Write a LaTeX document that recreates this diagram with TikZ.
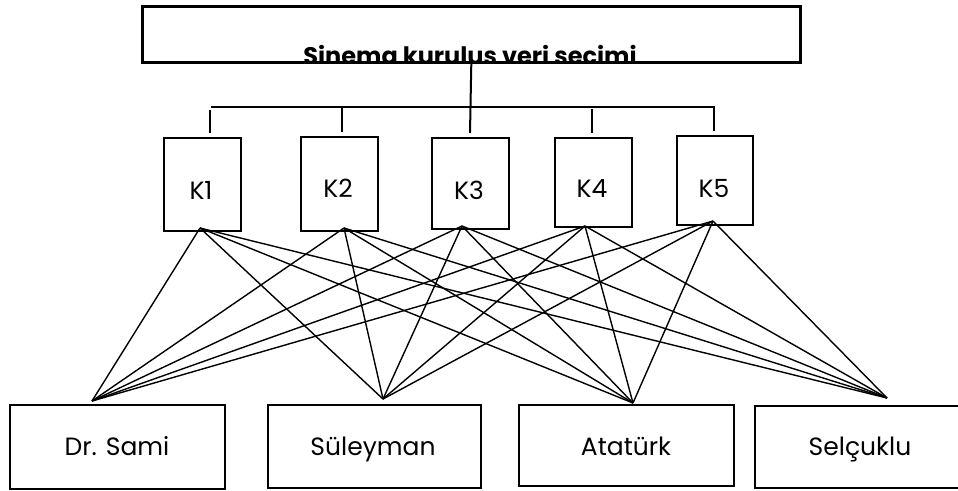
\documentclass[tikz,border=0pt]{standalone}
\usepackage{fontspec}
\setmainfont{Poppins}
\begin{document}
\begin{tikzpicture}[x=1pt,y=-1pt,
  box/.style={draw, line width=2.2pt, inner sep=0pt, anchor=north west},
  lbl/.style={inner sep=0pt, font=\fontsize{25}{30}\selectfont, anchor=base},
  tree/.style={line width=2pt},
  link/.style={line width=1.4pt},
]
\useasboundingbox (0,0) rectangle (958,490);

% title
\node[box, line width=2.6pt, minimum width=658pt, minimum height=56pt] (title) at (141,5) {};
\begin{scope}
  \clip (141,5) rectangle (799,60);
  \node[anchor=base, inner sep=0pt, font=\bfseries\fontsize{24}{28}\selectfont] (ttl) at (470,64) {Sinema kurulus veri secimi};
\end{scope}

% criteria boxes
\node[box, minimum width=77pt, minimum height=93pt] (K1) at (163,137) {};
\node[box, minimum width=77pt, minimum height=94pt] (K2) at (300,136) {};
\node[box, minimum width=77pt, minimum height=91pt] (K3) at (431,137) {};
\node[box, minimum width=77pt, minimum height=89pt] (K4) at (554,137) {};
\node[box, minimum width=76pt, minimum height=89pt] (K5) at (676,135) {};

\node[lbl] (K1t) at (201,199) {K1};
\node[lbl] (K2t) at (338,197) {K2};
\node[lbl] (K3t) at (469,199) {K3};
\node[lbl] (K4t) at (592,197) {K4};
\node[lbl] (K5t) at (714,197) {K5};

% tree
\coordinate (barL) at (211,107);
\coordinate (barR) at (715,107);
\coordinate (t1a) at (210,110); \coordinate (t1b) at (210,133);
\coordinate (t2a) at (342,107); \coordinate (t2b) at (342,132);
\coordinate (t3b) at (470,133);
\coordinate (t4a) at (592,109); \coordinate (t4b) at (592,133);
\coordinate (t5a) at (714,107); \coordinate (t5b) at (714,131);
\draw[tree] (barL) -- (barR);
\draw[tree] (title.south) -- (t3b);
\draw[tree] (t1a) -- (t1b);
\draw[tree] (t2a) -- (t2b);
\draw[tree] (t4a) -- (t4b);
\draw[tree] (t5a) -- (t5b);

% alternatives
\node[box, minimum width=215pt, minimum height=84pt] (B1) at (9,404) {};
\node[box, minimum width=213pt, minimum height=83pt] (B2) at (267,404) {};
\node[box, minimum width=215pt, minimum height=81pt] (B3) at (518,404) {};
\node[box, minimum width=208pt, minimum height=82pt] (B4) at (754,405) {};

\node[lbl] (B1t) at (117,455) {Dr. Sami};
\node[lbl] (B2t) at (373,455) {Süleyman};
\node[lbl] (B3t) at (626,455) {Atatürk};
\node[lbl] (B4t) at (860,455) {Selçuklu};

% connection points
\coordinate (K1o) at (200,228);
\coordinate (K2o) at (344,228);
\coordinate (K3o) at (462,226);
\coordinate (K4o) at (585,226);
\coordinate (K5o) at (713,221);
\coordinate (B1i) at (92,401);
\coordinate (B2i) at (383,399);
\coordinate (B3i) at (633,403);
\coordinate (B4i) at (887,398);

\foreach \k in {K1o,K2o,K3o,K4o,K5o}
  \foreach \b in {B1i,B2i,B3i,B4i}
    \draw[link] (\k) -- (\b);
\end{tikzpicture}
\end{document}
